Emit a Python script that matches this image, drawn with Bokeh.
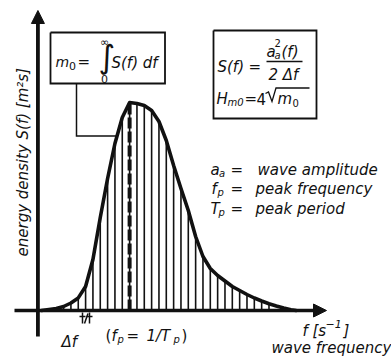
import math
from bokeh.plotting import figure
from bokeh.models import Range1d, Label, Arrow, NormalHead
from bokeh.embed import file_html
from bokeh.resources import INLINE

# Sampled wave energy spectrum: frequency bins (Hz) spaced by delta_f and
# the spectral density S(f) at each bin (m^2 s).
hatch_f = [0.035, 0.045, 0.055, 0.065, 0.075, 0.085, 0.095, 0.105, 0.115,
           0.125, 0.135, 0.145, 0.155, 0.165, 0.175, 0.185, 0.195, 0.205,
           0.215, 0.225, 0.235, 0.245, 0.255, 0.265, 0.275, 0.285, 0.295,
           0.305, 0.315]
hatch_S = [0.04, 0.075, 0.126, 0.24, 0.51, 0.93, 1.32, 1.67, 1.93,
           2.08, 2.07, 2.05, 2.00, 1.89, 1.70, 1.45, 1.22, 1.00,
           0.74, 0.54, 0.42, 0.35, 0.295, 0.24, 0.20, 0.16, 0.125,
           0.095, 0.067]

# Low- and high-frequency tails of the spectrum outside the hatched bins
tail_lo_f = [0.005, 0.015, 0.025]
tail_lo_S = [0.0, 0.01, 0.02]
tail_hi_f = [0.325, 0.335, 0.345, 0.352]
tail_hi_S = [0.045, 0.025, 0.008, 0.0]

# Peak frequency f_p (dashed line) and its spectral density
f_peak = 0.125
S_peak = 2.08

curve_f = tail_lo_f + hatch_f + tail_hi_f
curve_S = tail_lo_S + hatch_S + tail_hi_S

W, H = 391, 356
X0, X1 = -0.051, 0.482
Y0, Y1 = -0.46, 3.10

p = figure(width=W, height=H, output_backend="svg", toolbar_location=None,
           x_range=Range1d(X0, X1), y_range=Range1d(Y0, Y1),
           x_axis_location=None, y_axis_location=None, min_border=0,
           outline_line_color=None, background_fill_color="white",
           border_fill_color="white")
p.grid.visible = False


def X(px):
    """Page pixel column -> frequency units."""
    return X0 + px * (X1 - X0) / W


def Y(py):
    """Page pixel row (from top) -> density units."""
    return Y1 - py * (Y1 - Y0) / H


INK = "#111111"
FONT = "DejaVu Sans"


def put(text, px, py, size=15, style="italic", align="left", angle=0.0):
    p.add_layout(Label(x=X(px), y=Y(py - 2), text=text, text_font=FONT,
                       text_font_style=style, text_font_size=f"{size}px",
                       text_align=align, text_baseline="alphabetic",
                       angle=angle, text_color=INK))


def path(pxs, pys, width=1.5):
    p.line([X(a) for a in pxs], [Y(b) for b in pys], line_color=INK,
           line_width=width, line_join="miter")


# Hatching: one vertical strip per frequency bin
p.segment(x0=hatch_f, y0=[0] * len(hatch_f), x1=hatch_f, y1=hatch_S,
          line_color=INK, line_width=1.6)

# Peak frequency marker
p.segment(x0=[f_peak], y0=[0], x1=[f_peak], y1=[S_peak], line_color=INK,
          line_width=4, line_dash="11 3")

# Spectrum envelope
p.line(curve_f, curve_S, line_color=INK, line_width=3.6, line_join="round",
       line_cap="round")

# Axes with arrow heads
p.add_layout(Arrow(end=NormalHead(size=13, fill_color=INK, line_color=INK),
                   x_start=X(14), y_start=0, x_end=X(326), y_end=0,
                   line_color=INK, line_width=3.5))
p.add_layout(Arrow(end=NormalHead(size=13, fill_color=INK, line_color=INK),
                   x_start=0, y_start=Y(336), x_end=0, y_end=Y(10),
                   line_color=INK, line_width=3.8))

# Axis titles
put("energy density S(f) [m²s]", 22, 258, angle=math.pi / 2)
put("f", 302, 332)
put("[s", 312, 332)
put("−1", 325, 325, size=11)
put("]", 343, 332)
put("wave frequency", 271, 349)

# delta-f dimension mark and peak relation
path([82, 82], [312, 323])
path([89, 89], [312, 323])
path([79, 85], [316, 316])
path([86, 92], [316, 316])
path([84, 87.5], [323, 313])
put("Δf", 61, 343)
put("(", 105, 337, style="normal")
put("f", 111, 337)
put("p", 117, 341, size=10)
put("=", 126, 337, style="normal")
put("1/T", 146, 337)
put("p", 173, 341, size=10)
put(")", 181, 337, style="normal")

# Box: zeroth moment
path([50, 164.5, 164.5, 50, 50], [32, 32, 83, 83, 32], width=1.8)
path([76, 76, 117], [83, 135.5, 135.5], width=1.5)
put("m", 55, 63, size=14)
put("0", 68.5, 67, size=11, style="normal")
put("=", 77, 63, style="normal")
put("∫", 98, 58, size=32, style="normal")
put("∞", 104, 44, size=11, style="normal", align="center")
put("0", 104, 80, size=11, style="normal", align="center")
put("S(f) df", 111, 64)

# Box: spectral density and significant wave height
path([213, 316, 316, 213, 213], [30, 30, 118, 118, 30], width=1.8)
put("S(f)", 217, 68)
put("=", 248, 68, style="normal")
put("a", 266, 53)
put("a", 274, 57, size=10)
put("2", 274, 44, size=10, style="normal")
put("(f)", 281, 53)
path([266, 302], [61, 61], width=1.4)
put("2 Δf", 268, 76.5)
put("H", 216, 100)
put("m0", 227, 104, size=10)
put("=", 244, 100, style="normal")
put("4", 256, 100, style="normal")
path([265, 268, 271.5, 275.5, 309], [93, 91.5, 101, 87.5, 87.5], width=1.3)
put("m", 277, 100)
put("0", 292, 104, size=10, style="normal")

# Symbol legend
put("a", 210, 171)
put("a", 218.5, 175, size=10)
put("=", 230, 171, style="normal")
put("wave amplitude", 257, 171)
put("f", 211, 190)
put("p", 217, 194, size=10)
put("=", 230, 190, style="normal")
put("peak frequency", 255, 190)
put("T", 210, 210)
put("p", 218, 214, size=10)
put("=", 230, 210, style="normal")
put("peak period", 255, 210)

open("out.html", "w").write(file_html(p, INLINE))
